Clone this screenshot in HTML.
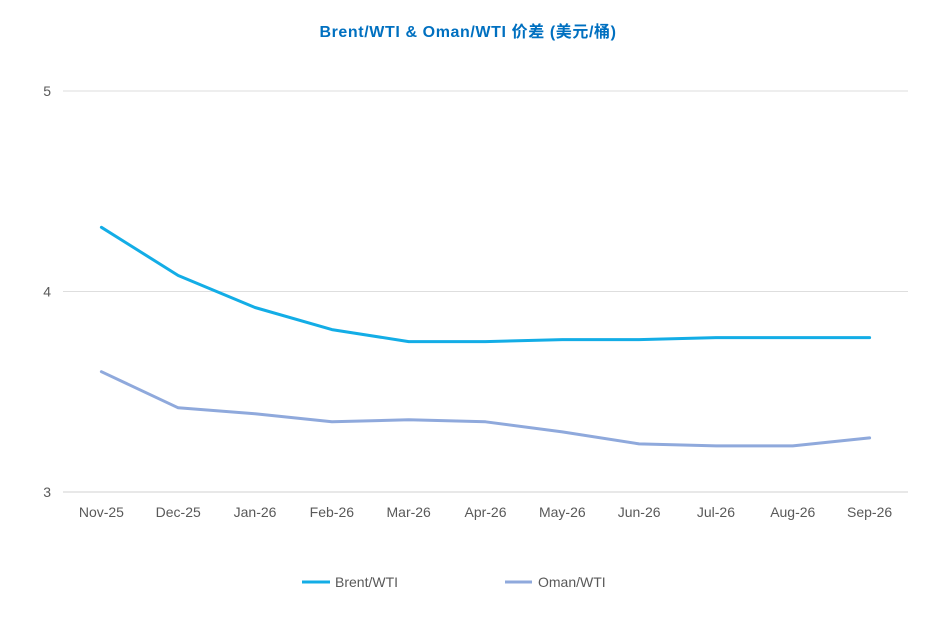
<!DOCTYPE html>
<html><head><meta charset="utf-8">
<style>
html,body{margin:0;padding:0;background:#fff;}
svg{display:block;font-family:"Liberation Sans","Noto Sans CJK SC",sans-serif;}
</style></head>
<body>
<svg id="chart" width="937" height="634" viewBox="0 0 937 634">
<text x="468" y="37" text-anchor="middle" font-size="16" letter-spacing="0.6" font-weight="bold" fill="#0070c0">Brent/WTI &amp; Oman/WTI 价差 (美元/桶)</text>
<g id="grid"></g>
<g id="xlabels"></g>
<g id="series"></g>
<g>
<line x1="302" y1="582" x2="330" y2="582" stroke="#13ade6" stroke-width="3"/>
<text x="335" y="587" font-size="14" fill="#595959">Brent/WTI</text>
<line x1="505" y1="582" x2="532" y2="582" stroke="#8fa9dc" stroke-width="3"/>
<text x="538" y="587" font-size="14" fill="#595959">Oman/WTI</text>
</g>
</svg>
<script>
const categories = ["Nov-25","Dec-25","Jan-26","Feb-26","Mar-26","Apr-26","May-26","Jun-26","Jul-26","Aug-26","Sep-26"];
const brentWti = [4.32,4.08,3.92,3.81,3.75,3.75,3.76,3.76,3.77,3.77,3.77];
const omanWti = [3.60,3.42,3.39,3.35,3.36,3.35,3.30,3.24,3.23,3.23,3.27];
const yTicks = [3,4,5];

const NS = "http://www.w3.org/2000/svg";
const plotL = 63, plotR = 908, yTop = 91, yBot = 492, yMin = 3, yMax = 5;
const band = (plotR - plotL) / categories.length;
function xs(i){ return plotL + band * (i + 0.5); }
function ys(v){ return yBot - (v - yMin) / (yMax - yMin) * (yBot - yTop); }
function mk(tag, attrs, parent){ const e = document.createElementNS(NS, tag); for (const k in attrs) e.setAttribute(k, attrs[k]); parent.appendChild(e); return e; }

const grid = document.getElementById('grid');
yTicks.forEach(t => {
  const y = ys(t);
  const ln = mk('line', {x1: plotL, x2: plotR, y1: y, y2: y, stroke: t === yMin ? '#d0d0d0' : '#dedede', 'stroke-width': 1}, grid);
  
  
  const tx = mk('text', {x: 51, y: y + 5, 'text-anchor': 'end', 'font-size': 14, fill: '#595959'}, grid);
  tx.textContent = t;
  
  
});

const xl = document.getElementById('xlabels');
categories.forEach((c, i) => {
  const tx = mk('text', {x: xs(i), y: 517, 'text-anchor': 'middle', 'font-size': 14, fill: '#595959'}, xl);
  tx.textContent = c;
  
  
});

const sg = document.getElementById('series');
function drawLine(vals, color, name){
  const pts = vals.map((v, i) => xs(i).toFixed(1) + ',' + ys(v).toFixed(1)).join(' ');
  const p = mk('polyline', {points: pts, fill: 'none', stroke: color, 'stroke-width': 3, 'stroke-linejoin': 'round', 'stroke-linecap': 'round'}, sg);
  
  
}
drawLine(brentWti, '#13ade6', 'brent-wti-line');
drawLine(omanWti, '#8fa9dc', 'oman-wti-line');
</script>
</body></html>
